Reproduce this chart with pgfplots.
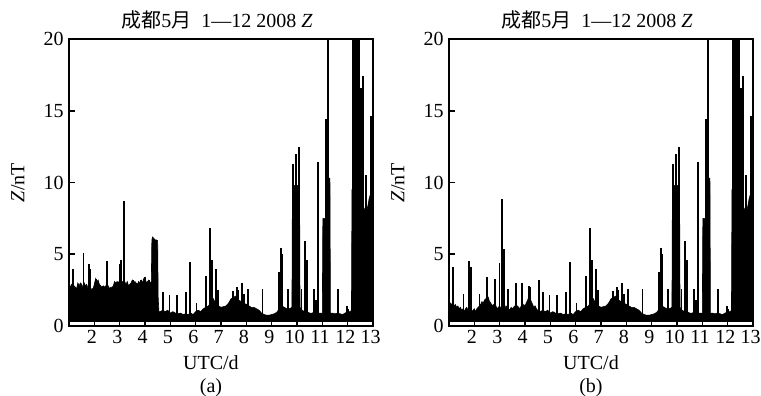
\documentclass[border=0pt]{standalone}
\usepackage{fontspec}
\setmainfont{Liberation Serif}
\newfontfamily\cjk{Noto Sans CJK SC}
\usepackage{pgfplots}
\usepackage{pgfplotstable}
\pgfplotsset{compat=1.18}

% ---------- panel (a), days 1 to 4.6 ----------
\pgfplotstableread{
x y
1.00 2.9
1.05 2.7
1.10 2.9
1.15 2.6
1.20 2.8
1.25 2.7
1.30 2.6
1.35 3.0
1.40 2.8
1.45 3.0
1.50 2.9
1.55 2.7
1.60 3.0
1.65 2.8
1.70 2.9
1.75 2.6
1.80 2.7
1.85 2.5
1.90 2.6
1.95 2.6
2.00 2.9
2.05 3.3
2.10 3.1
2.15 3.2
2.20 2.9
2.25 2.8
2.30 2.7
2.35 2.8
2.40 2.7
2.45 2.8
2.50 2.7
2.55 2.8
2.60 2.6
2.65 2.7
2.70 2.7
2.75 2.8
2.80 3.1
2.85 3.0
2.90 3.1
2.95 3.0
3.00 3.2
3.05 3.0
3.10 3.1
3.15 3.0
3.20 3.1
3.25 2.9
3.30 3.1
3.35 2.8
3.40 2.9
3.45 3.0
3.50 3.2
3.55 3.0
3.60 3.1
3.65 3.0
3.70 2.9
3.75 3.1
3.80 3.0
3.85 3.2
3.90 3.0
3.95 3.3
4.00 3.4
4.05 3.0
4.10 3.1
4.15 3.2
4.20 3.0
4.25 3.1
4.27 6.0
4.30 6.2
4.35 6.1
4.40 6.0
4.45 6.0
4.50 5.95
4.52 2.0
4.55 1.0
4.60 1.0
}\envA
\pgfplotstableread{
x y
1.02 4.55
1.15 4.0
1.57 5.07
1.78 4.35
1.85 4.0
2.08 3.3
2.51 4.55
2.99 4.3
3.06 4.6
3.18 8.73
3.52 3.2
3.83 3.2
4.01 3.4
4.17 3.2
}\spkA
% ---------- panel (b), days 1 to 4.6 ----------
\pgfplotstableread{
x y
1.00 1.7
1.05 1.6
1.10 1.5
1.15 1.6
1.20 1.4
1.25 1.5
1.30 1.3
1.35 1.4
1.40 1.2
1.45 1.3
1.50 1.1
1.55 1.2
1.60 1.0
1.65 1.2
1.70 1.3
1.75 1.1
1.80 1.0
1.85 1.2
1.90 1.0
1.95 1.1
2.00 1.2
2.05 1.0
2.10 1.2
2.15 1.3
2.20 1.4
2.25 1.5
2.30 1.7
2.35 1.6
2.40 1.8
2.45 1.9
2.50 1.8
2.55 2.0
2.60 1.7
2.65 1.6
2.70 1.4
2.75 1.5
2.80 1.3
2.85 1.4
2.90 1.2
2.95 1.3
3.00 1.4
3.05 1.2
3.10 1.5
3.15 1.3
3.20 1.2
3.25 1.4
3.30 1.3
3.35 1.2
3.40 1.1
3.45 1.3
3.50 1.2
3.55 1.3
3.60 1.4
3.65 1.2
3.70 1.4
3.75 1.3
3.80 1.2
3.85 1.4
3.90 1.3
3.95 1.5
4.00 1.4
4.05 1.6
4.10 1.8
4.15 2.0
4.20 1.9
4.25 1.7
4.30 1.5
4.35 1.3
4.40 1.4
4.45 1.2
4.50 1.1
4.55 1.0
4.60 1.0
}\envB
\pgfplotstableread{
x y
1.01 4.6
1.15 4.1
1.57 2.2
1.78 4.5
1.87 4.1
2.20 2.2
2.50 3.4
2.83 3.3
2.99 4.4
3.09 8.86
3.16 5.36
3.34 2.55
3.65 3.0
3.88 3.0
4.17 2.8
4.22 2.7
4.54 3.2
}\spkB
% ---------- both panels, days 4.6 to 13 ----------
\pgfplotstableread{
x y
4.60 1.0
4.70 1.1
4.80 1.0
4.90 1.1
5.00 0.9
5.10 1.0
5.20 0.9
5.30 0.85
5.40 0.9
5.50 0.8
5.60 0.85
5.70 0.8
5.80 0.9
5.90 0.8
6.00 1.0
6.10 1.1
6.20 1.0
6.30 1.2
6.40 1.3
6.50 1.4
6.60 1.6
6.70 1.9
6.80 1.5
6.90 1.4
7.00 1.3
7.10 1.35
7.20 1.4
7.30 1.6
7.40 1.9
7.50 2.0
7.60 2.1
7.70 1.8
7.80 1.7
7.90 1.6
8.00 1.5
8.10 1.4
8.20 1.3
8.30 1.3
8.40 1.2
8.50 1.1
8.60 0.9
8.70 0.8
8.80 0.75
8.90 0.75
9.00 0.8
9.10 0.85
9.20 0.95
9.30 1.2
9.40 1.4
9.50 1.3
9.60 1.2
9.70 1.2
9.80 1.3
9.82 9.8
10.10 9.8
10.12 1.3
10.20 1.1
10.30 1.0
10.40 1.0
10.50 0.9
10.60 0.9
10.70 1.0
10.80 0.9
10.90 0.9
11.00 0.9
11.02 7.5
11.12 7.5
11.13 10.3
11.30 10.3
11.32 0.9
11.40 0.9
11.50 0.85
11.60 0.9
11.70 0.85
11.80 0.8
11.90 0.9
12.00 1.0
12.10 1.0
12.15 1.1
12.17 9.5
12.50 9.5
12.55 8.8
12.60 8.4
12.70 8.0
12.75 8.0
12.80 8.4
12.85 8.9
12.90 9.2
12.95 9.4
13.00 9.4
}\envC
\pgfplotstableread{
x y
4.71 2.35
4.97 2.17
5.27 2.17
5.62 2.35
5.79 4.48
6.03 1.6
6.42 3.48
6.57 6.85
6.63 4.6
6.81 4.0
6.88 2.5
7.46 2.46
7.62 2.7
7.69 2.5
7.82 2.97
7.90 2.2
8.08 2.55
8.64 2.57
9.30 3.78
9.36 5.46
9.43 5.0
9.66 2.6
9.85 11.27
9.97 11.96
10.09 12.5
10.18 2.57
10.32 5.9
10.39 4.6
10.67 2.6
10.74 1.8
10.82 11.4
11.15 14.4
11.22 25
11.63 2.6
11.96 1.4
12.02 1.2
12.20 25
12.24 25
12.28 25
12.36 25
12.40 25
12.44 25
12.52 16.6
12.62 17.4
12.71 10.5
12.93 14.6
12.96 14.6
}\spkC

\pgfplotsset{
  panel/.style={
    scale only axis, width=152pt, height=143.5pt,
    xmin=1, xmax=13, ymin=0, ymax=20,
    xtick={2,...,13}, ytick={0,5,10,15,20},
    tick align=inside, xtick pos=bottom, ytick pos=left,
    major tick length=3pt,
    every tick/.style={black, line width=0.8pt},
    axis line style={line width=1pt},
    axis on top,
    /pgf/number format/assume math mode=true,
    tick label style={font=\fontsize{10}{12}\selectfont},
    xticklabel style={inner sep=2pt, xshift=-1.2pt},
    yticklabel style={inner sep=2.5pt},
    label style={font=\fontsize{10}{12}\selectfont},
    xlabel={UTC/d},
    ylabel={\textit{Z}/nT},
    xlabel style={at={(axis description cs:0.467,0)}, anchor=center, yshift=-18.5pt},
    ylabel style={at={(axis description cs:-0.168,0.5)}, anchor=center},
    title={{\cjk 成都}5{\cjk 月}\enspace 1—12 2008 \textit{Z}},
    title style={at={(axis description cs:0.487,1)}, anchor=center, yshift=3.5pt,
                 font=\fontsize{10}{12}\selectfont},
  },
  spike/.style={ycomb, black, line width=0.9pt, mark=none},
  env/.style={fill=black, draw=black, line width=0.3pt, mark=none},
}

\begin{document}
\begin{tikzpicture}
\path[use as bounding box] (0,0) rectangle (380.5pt,198pt);

\begin{axis}[panel, at={(34.5pt,35pt)}, anchor=south west,
  after end axis/.code={\node[font=\fontsize{10}{12}\selectfont] at (axis description cs:0.467,0) [yshift=-31pt] {(a)};}]
\addplot[env] table {\envA} \closedcycle;
\addplot[env] table {\envC} \closedcycle;
\addplot[spike] table {\spkA};
\addplot[spike] table {\spkC};
\addplot[white, line width=1.1pt, mark=none] coordinates {(1,0.17) (13,0.17)};
\end{axis}

\begin{axis}[panel, at={(224.5pt,35pt)}, anchor=south west,
  after end axis/.code={\node[font=\fontsize{10}{12}\selectfont] at (axis description cs:0.467,0) [yshift=-31pt] {(b)};}]
\addplot[env] table {\envB} \closedcycle;
\addplot[env] table {\envC} \closedcycle;
\addplot[spike] table {\spkB};
\addplot[spike] table {\spkC};
\addplot[white, line width=1.1pt, mark=none] coordinates {(1,0.17) (13,0.17)};
\end{axis}
\end{tikzpicture}
\end{document}
